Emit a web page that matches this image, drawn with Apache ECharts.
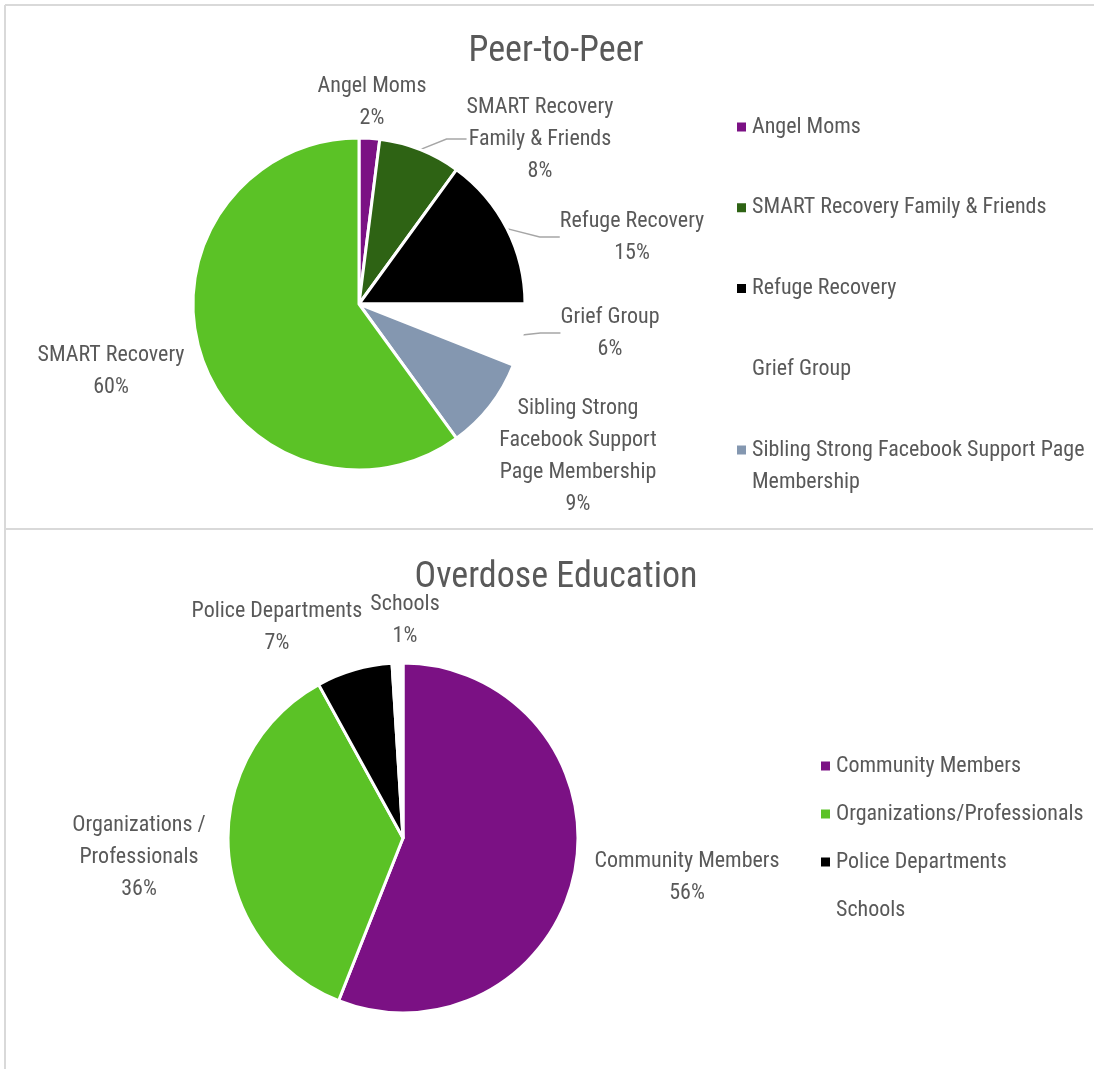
<!DOCTYPE html>
<html>
<head>
<meta charset="utf-8">
<script src="https://cdn.jsdelivr.net/npm/echarts@6/dist/echarts.min.js"></script>
<style>
html,body{margin:0;padding:0;background:#fff;}
#c{width:1094px;height:1069px;}
</style>
</head>
<body>
<div id="c"></div>
<script>
// ---- Data ----
const peerTitle = 'Peer-to-Peer';
const peerCategories = ['Angel Moms', 'SMART Recovery Family & Friends', 'Refuge Recovery', 'Grief Group', 'Sibling Strong Facebook Support Page Membership', 'SMART Recovery'];
const peerLabels = ['Angel Moms', 'SMART Recovery\nFamily & Friends', 'Refuge Recovery', 'Grief Group', 'Sibling Strong\nFacebook Support\nPage Membership', 'SMART Recovery'];
const peerValues = [2, 8, 15, 6, 9, 60];
const peerColors = ['#7B1184', '#2E6314', '#000000', '#FFFFFF', '#8497B0', '#5BC226'];

const odTitle = 'Overdose Education';
const odCategories = ['Community Members', 'Organizations/Professionals', 'Police Departments', 'Schools'];
const odLabels = ['Community Members', 'Organizations /\nProfessionals', 'Police Departments', 'Schools'];
const odValues = [56, 36, 7, 1];
const odColors = ['#7B1184', '#5BC226', '#000000', '#FFFFFF'];

// ---- Styles / layout ----
const FONT = "'Roboto Condensed','Liberation Sans Narrow','DejaVu Sans Condensed','Open Sans',sans-serif";
const TXT = '#595959';
const FS = 22;

// label centre positions (layout only), in data order
const peerLabelPos = [[372, 102], [540, 139], [632, 237], [610, 333], [578, 456], [111, 371]];
const odLabelPos = [[687, 877], [139, 857], [277, 627], [405, 620]];
const peerLineShow = [false, true, true, true, false, false];

function pieData(cats, vals, cols, labels, lines) {
  return cats.map((c, i) => ({
    name: c, value: vals[i],
    itemStyle: { color: cols[i] },
    label: { formatter: labels[i] + '\n' + vals[i] + '%' },
    labelLine: { show: lines ? lines[i] : false }
  }));
}

const peerData = pieData(peerCategories, peerValues, peerColors, peerLabels, peerLineShow);
const odData = pieData(odCategories, odValues, odColors, odLabels, null);

const legendText = { fontFamily: FONT, fontSize: FS, color: TXT, lineHeight: 32 };
const legendBase = { orient: 'vertical', itemWidth: 11, itemHeight: 11, icon: 'rect', selectedMode: false, textStyle: legendText };
const labelBase = { show: true, position: 'outside', fontFamily: FONT, fontSize: FS, color: TXT, lineHeight: 32, align: 'center' };

const chart = echarts.init(document.getElementById('c'), null, { renderer: 'canvas' });
chart.setOption({
  animation: false,
  backgroundColor: '#fff',
  graphic: [
    { type: 'line', shape: { x1: 5, y1: 5, x2: 1094, y2: 5 }, style: { stroke: '#d9d9d9', lineWidth: 2 } },
    { type: 'line', shape: { x1: 5, y1: 5, x2: 5, y2: 1069 }, style: { stroke: '#d9d9d9', lineWidth: 2 } },
    { type: 'line', shape: { x1: 5, y1: 529, x2: 1093, y2: 529 }, style: { stroke: '#d9d9d9', lineWidth: 2 } }
  ],
  title: [
    { text: peerTitle, left: 551, top: 29, textAlign: 'center', textStyle: { fontFamily: FONT, fontSize: 36, fontWeight: 'normal', color: TXT } },
    { text: odTitle, left: 551, top: 555, textAlign: 'center', textStyle: { fontFamily: FONT, fontSize: 36, fontWeight: 'normal', color: TXT } }
  ],
  legend: [
    Object.assign({}, legendBase, { data: peerCategories.slice(0, 4), left: 730, top: 106, itemGap: 48.7 }),
    Object.assign({}, legendBase, { data: [peerCategories[4]], left: 730, top: 397,
      formatter: () => ' \nSibling Strong Facebook Support Page\nMembership' }),
    Object.assign({}, legendBase, { data: odCategories, left: 814, top: 745, itemGap: 16 })
  ],
  series: [
    {
      type: 'pie', name: peerTitle, center: [359, 304], radius: 166, startAngle: 90, clockwise: true,
      data: peerData,
      itemStyle: { borderColor: '#fff', borderWidth: 3 },
      label: labelBase,
      labelLine: { lineStyle: { color: '#A6A6A6', width: 1.5 }, length: 15, length2: 20 },
      labelLayout: (p) => {
        const pos = peerLabelPos[p.dataIndex];
        return { x: pos[0], y: pos[1], align: 'center', verticalAlign: 'middle' };
      },
      emphasis: { disabled: true }
    },
    {
      type: 'pie', name: odTitle, center: [403, 838], radius: 175, startAngle: 90, clockwise: true,
      data: odData,
      itemStyle: { borderColor: '#fff', borderWidth: 3 },
      label: labelBase,
      labelLayout: (p) => {
        const pos = odLabelPos[p.dataIndex];
        return { x: pos[0], y: pos[1], align: 'center', verticalAlign: 'middle' };
      },
      emphasis: { disabled: true }
    }
  ]
});
</script>
</body>
</html>
